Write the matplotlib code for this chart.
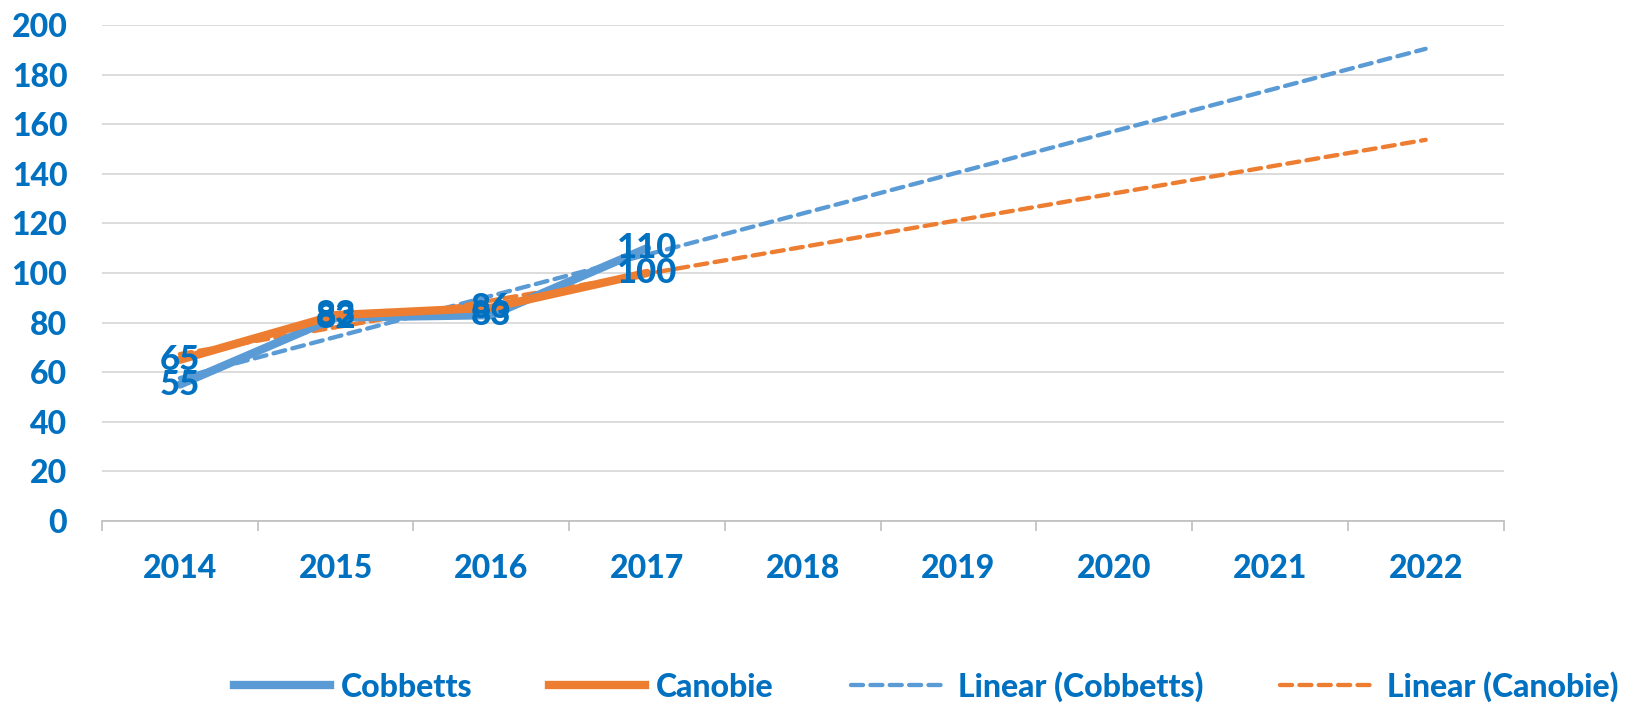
import numpy as np
import matplotlib.pyplot as plt
from matplotlib.lines import Line2D

years = ['2014', '2015', '2016', '2017', '2018', '2019', '2020', '2021', '2022']
cobbetts = [55, 82, 83, 110]
canobie = [65, 83, 86, 100]
y_ticks = [0, 20, 40, 60, 80, 100, 120, 140, 160, 180, 200]

blue = '#5B9BD5'
orange = '#ED7D31'
text_blue = '#0070C0'
font = ['Lato', 'DejaVu Sans']

plt.rcParams['font.family'] = font
plt.rcParams['font.weight'] = 'black'

fig = plt.figure(figsize=(16.45, 7.04), dpi=100)
ax = fig.add_axes([0.062, 0.26, 0.852, 0.7045])

x_all = np.arange(len(years))
x_obs = np.arange(len(cobbetts))

# linear trendlines over the full category range
for vals, col in [(cobbetts, blue), (canobie, orange)]:
    k, b = np.polyfit(x_obs + 1, vals, 1)
    ax.plot(x_all, k * (x_all + 1) + b, color=col, lw=3.1, ls=(0, (2.8, 1.7)),
            dash_capstyle='round', zorder=2)

ax.plot(x_obs, cobbetts, color=blue, lw=6, solid_capstyle='round', zorder=3)
ax.plot(x_obs, canobie, color=orange, lw=6, solid_capstyle='round', zorder=3)

for vals in (cobbetts, canobie):
    for xi, v in zip(x_obs, vals):
        ax.text(xi, v, str(v), ha='center', va='center', fontsize=25,
                color=text_blue, fontweight='black', zorder=4)

ax.set_xlim(-0.5, len(years) - 0.5)
ax.set_ylim(0, 200)
ax.set_yticks(y_ticks)
ax.set_yticklabels([str(t) for t in y_ticks])
ax.set_xticks(x_all)
ax.set_xticklabels(years)
ax.set_xticks(np.arange(-0.5, len(years), 1), minor=True)
ax.tick_params(axis='x', which='major', length=0, pad=24, labelsize=23,
               labelcolor=text_blue)
ax.tick_params(axis='x', which='minor', length=7, color='#BFBFBF', width=1.2)
ax.tick_params(axis='y', length=0, pad=25, labelsize=23, labelcolor=text_blue)

ax.grid(axis='y', color='#D9D9D9', lw=1.3)
ax.set_axisbelow(True)
for s in ['top', 'right', 'left']:
    ax.spines[s].set_visible(False)
ax.spines['bottom'].set_color('#BFBFBF')
ax.spines['bottom'].set_linewidth(1.2)

handles = [
    Line2D([], [], color=blue, lw=6),
    Line2D([], [], color=orange, lw=6),
    Line2D([], [], color=blue, lw=3.1, ls=(0, (2.8, 1.7)), dash_capstyle='round'),
    Line2D([], [], color=orange, lw=3.1, ls=(0, (2.8, 1.7)), dash_capstyle='round'),
]
labels = ['Cobbetts', 'Canobie', 'Linear (Cobbetts)', 'Linear (Canobie)']
leg = fig.legend(handles, labels, loc='center', bbox_to_anchor=(0.563, 0.025),
                 ncol=4, frameon=False, fontsize=23, handlelength=3.0,
                 handletextpad=0.35, columnspacing=2.4)
for t in leg.get_texts():
    t.set_color(text_blue)

fig.savefig('out.png', dpi=100)
